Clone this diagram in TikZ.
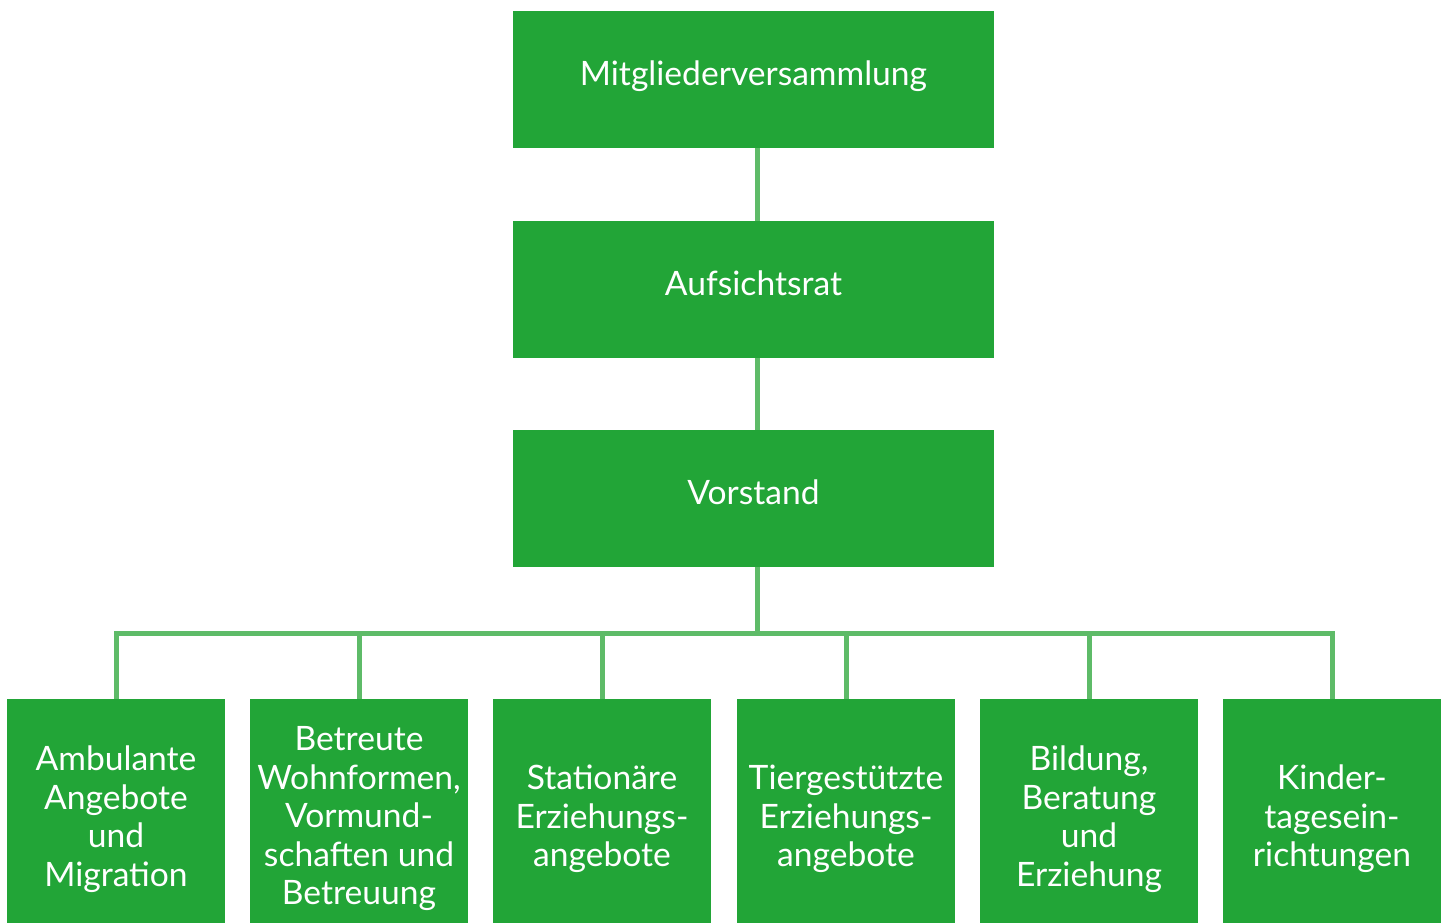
\documentclass[tikz,border=0pt]{standalone}
\usepackage{fontspec}
\setmainfont{Lato}
\definecolor{boxgreen}{HTML}{22A537}
\definecolor{linegreen}{HTML}{5EBB68}

\begin{document}
\begin{tikzpicture}[line join=miter,
  topbox/.style={draw=none,fill=boxgreen,text=white,inner sep=0pt,
    minimum width=240.5bp,minimum height=68.5bp,text height=0.87em,text depth=0.25em,
    font=\fontsize{16.8bp}{19.25bp}\selectfont},
  unitbox/.style={draw=none,fill=boxgreen,text=white,inner sep=0pt,align=center,
    minimum width=109bp,minimum height=120bp,
    font=\fontsize{16.8bp}{19.25bp}\selectfont},
  link/.style={draw=linegreen,line width=2.5bp}]
%%
\useasboundingbox (0bp,0bp) rectangle (724.5bp,461.5bp);
\node (node_mv) at (376.75bp,421.75bp) [topbox] {Mitgliederversammlung};
  \node (node_ar) at (376.75bp,316.75bp) [topbox] {Aufsichtsrat};
  \node (node_vs) at (376.75bp,212.25bp) [topbox] {Vorstand};
  % bottom row runs off the page edge
  \node (node_1) at (58bp,52bp) [unitbox] {Ambulante\\Angebote\\und\\Migration};
  \node (node_2) at (179.5bp,52bp) [unitbox] {Betreute\\Wohnformen,\\Vormund-\\schaften und\\Betreuung};
  \node (node_3) at (301bp,52bp) [unitbox] {Stationäre\\Erziehungs-\\angebote};
  \node (node_4) at (423bp,52bp) [unitbox] {Tiergestützte\\Erziehungs-\\angebote};
  \node (node_5) at (544.5bp,52bp) [unitbox] {Bildung,\\Beratung\\und\\Erziehung};
  \node (node_6) at (666bp,52bp) [unitbox] {Kinder-\\tagesein-\\richtungen};
  \coordinate (bar) at (378.75bp,144.5bp);
  \draw [link] ([xshift=2bp]node_mv.south) -- ([xshift=2bp]node_ar.north);
  \draw [link] ([xshift=2bp]node_ar.south) -- ([xshift=2bp]node_vs.north);
  \draw [link] ([xshift=2bp]node_vs.south) -- (bar);
  \foreach \k in {1,...,6}
    \draw [link] (bar) -| (node_\k.north);
%
\end{tikzpicture}
\end{document}
